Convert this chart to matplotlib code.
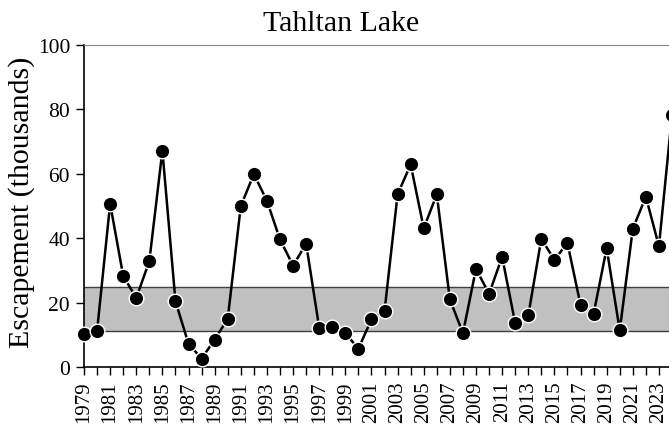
import numpy as np
import matplotlib
matplotlib.use("Agg")
import matplotlib.pyplot as plt

plt.rcParams['font.family'] = ['Liberation Serif', 'DejaVu Serif']

# escapement by year (thousands of fish)
years = list(range(1979, 2025))
escapement = [10.3, 11.2, 50.7, 28.3, 21.4, 32.9, 67.2, 20.4, 7.2, 2.6,
              8.5, 15.0, 50.0, 59.9, 51.6, 39.6, 31.5, 38.3, 12.2, 12.4,
              10.5, 5.7, 14.8, 17.4, 53.6, 62.9, 43.1, 53.6, 21.0, 10.5,
              30.5, 22.7, 34.2, 13.6, 16.0, 39.8, 33.3, 38.5, 19.3, 16.5,
              36.9, 11.4, 42.9, 52.9, 37.5, 78.3]

# goal range (thousands)
goal_low = 11.2
goal_high = 25.0

fig = plt.figure(figsize=(6.69, 4.27), dpi=100)
ax = fig.add_axes([84/669, 59/427, 588/669, 322/427])

ax.axhspan(goal_low, goal_high, facecolor='#c0c0c0', edgecolor='none', zorder=1)
ax.axhline(goal_low, color='#404040', lw=1.0, zorder=1.5)
ax.axhline(goal_high, color='#404040', lw=1.0, zorder=1.5)

ax.plot(years, escapement, color='black', lw=1.8, marker='o', markersize=10.5,
        markerfacecolor='black', markeredgecolor='white', markeredgewidth=1.0,
        zorder=3, clip_on=False)

ax.set_xlim(1979, 2024)
ax.set_ylim(0, 100)
ax.set_yticks([0, 20, 40, 60, 80, 100])
ax.set_xticks(years, minor=True)
ax.set_xticks(years[::2])
ax.set_xticklabels([str(y) for y in years[::2]], rotation=90)

ax.tick_params(axis='y', labelsize=15.5, direction='out', length=6, width=1, pad=4)
ax.tick_params(axis='x', which='both', labelsize=15, direction='out', length=6, width=1)

ax.spines['right'].set_visible(False)
ax.spines['top'].set_color('#888888')
ax.spines['left'].set_linewidth(1.2)
ax.spines['bottom'].set_linewidth(1.2)

fig.text(22/669, 1 - 202/427, 'Escapement (thousands)', fontsize=21.5,
         rotation=90, ha='center', va='center')
fig.text(341/669, 1 - 31/427, 'Tahltan Lake', fontsize=21.5,
         ha='center', va='baseline')

fig.savefig('out.png', dpi=100)
